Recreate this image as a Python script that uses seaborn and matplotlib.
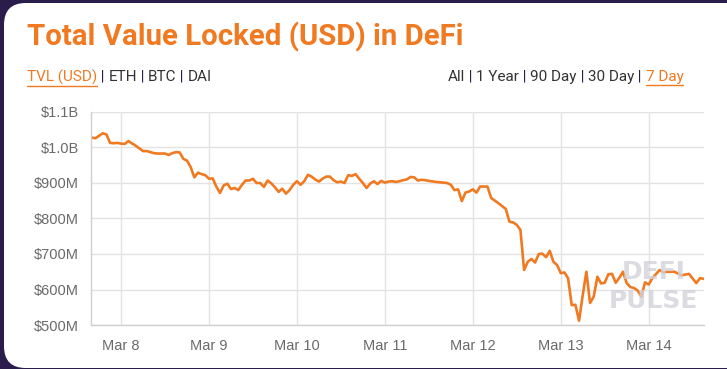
import pandas as pd
import matplotlib.pyplot as plt
import seaborn as sns
from matplotlib.patches import FancyBboxPatch

# hours since Mar 8 00:00 and TVL in $M
hours = [-8, -7, -6, -5, -4, -3, -2, -1, 0, 1, 2, 4, 6, 7, 9, 10, 12, 13, 14, 15,
         16, 17, 18, 19, 20, 21, 22, 23, 24, 25, 26, 27, 28, 29, 30, 31, 32, 33, 34, 35,
         36, 37, 38, 39, 40, 41, 42, 43, 44, 45, 46, 47, 48, 49, 50, 51, 52, 53, 54, 55,
         56, 57, 58, 59, 60, 61, 62, 63, 64, 65, 66, 67, 68, 69, 70, 71, 72, 73, 74, 75,
         76, 77, 78, 79, 80, 81, 82, 83, 84, 86, 88, 89, 90, 91, 92, 93, 94, 95, 96, 97,
         98, 100, 101, 103, 104, 105, 106, 107, 108, 109, 110, 111, 112, 113, 114, 115, 116, 117, 118, 119,
         120, 121, 122, 123, 124, 125, 126, 127, 128, 129, 130, 131, 132, 133, 134, 135, 136, 137, 138, 139,
         140, 141, 142, 143, 144, 145, 147, 148, 149, 151, 153, 155, 157, 158, 159]
tvl = [1028, 1026, 1033, 1040, 1037, 1013, 1012, 1013, 1011, 1010, 1018, 1005, 990, 990, 984, 983, 983, 979, 984, 987,
       986, 968, 963, 945, 916, 929, 925, 922, 912, 913, 890, 872, 893, 898, 883, 886, 880, 895, 907, 907,
       912, 900, 900, 889, 907, 899, 888, 875, 884, 870, 880, 895, 905, 895, 905, 923, 918, 910, 904, 912,
       918, 918, 908, 902, 904, 900, 922, 920, 925, 912, 900, 886, 898, 905, 897, 906, 901, 904, 905, 903,
       905, 908, 910, 917, 916, 907, 909, 908, 906, 903, 901, 900, 895, 880, 882, 849, 873, 876, 882, 873,
       890, 890, 858, 843, 835, 827, 791, 789, 782, 768, 655, 678, 686, 676, 700, 701, 691, 709, 678, 669,
       646, 648, 632, 556, 557, 512, 584, 650, 562, 580, 636, 617, 619, 643, 644, 619, 633, 650, 618, 607,
       604, 597, 580, 620, 614, 632, 655, 648, 650, 650, 640, 644, 618, 632, 630]

day_labels = ["Mar 8", "Mar 9", "Mar 10", "Mar 11", "Mar 12", "Mar 13", "Mar 14"]
y_ticks = [500, 600, 700, 800, 900, 1000, 1100]
y_labels = ["$500M", "$600M", "$700M", "$800M", "$900M", "$1.0B", "$1.1B"]

orange = "#f07a22"
purple = "#2a1d4c"
base = pd.Timestamp("2020-03-08")
df = pd.DataFrame({"time": [base + pd.Timedelta(hours=h) for h in hours], "tvl": tvl})

sns.set_style("white")
fig = plt.figure(figsize=(7.27, 3.69), dpi=100)
fig.patch.set_facecolor(purple)
card = FancyBboxPatch((4 / 727, 1 / 369), 760 / 727, 365 / 369,
                      boxstyle="round,pad=0,rounding_size=0.03", transform=fig.transFigure,
                      facecolor="white", edgecolor="none", mutation_aspect=727 / 369, zorder=-10)
fig.patches.append(card)

ax = fig.add_axes([91 / 727, 44 / 369, 613 / 727, 213 / 369])
ax.set_facecolor("white")
sns.lineplot(data=df, x="time", y="tvl", ax=ax, color=orange, linewidth=1.9)

ax.set_xlim(base - pd.Timedelta(hours=8.2), base + pd.Timedelta(hours=159.1))
ax.set_ylim(500, 1100)
ax.set_xticks([base + pd.Timedelta(days=i) for i in range(len(day_labels))])
ax.set_xticklabels(day_labels)
ax.set_yticks(y_ticks)
ax.set_yticklabels(y_labels)
ax.set_xlabel("")
ax.set_ylabel("")
ax.grid(True, color="#e3e3e3", linewidth=1)
for s in ["top", "right"]:
    ax.spines[s].set_visible(False)
for s in ["left", "bottom"]:
    ax.spines[s].set_color("#d0d0d0")
    ax.spines[s].set_linewidth(1)
ax.tick_params(axis="both", colors="#e3e3e3", labelcolor="#6a6a6a", labelsize=10.5)
ax.tick_params(axis="y", length=6.5, pad=2)
ax.tick_params(axis="x", length=3.6, pad=6.5)
for lab in ax.get_xticklabels() + ax.get_yticklabels():
    lab.set_family("Liberation Sans")

# watermark
for txt, yy in [("DEFI", 0.25), ("PULSE", 0.115)]:
    ax.text(0.918, yy, txt, transform=ax.transAxes, ha="center", va="center",
            fontsize=18, fontweight="bold", family="DejaVu Sans", color="#d2d2da",
            alpha=0.8, zorder=5)

fig.text(27 / 727, 1 - 37 / 369, "Total Value Locked (USD) in DeFi", color=orange,
         fontsize=21.2, fontweight="bold", family="Roboto", va="center")

row_y = 1 - 77 / 369
dark = "#333333"
fig.canvas.draw()
r = fig.canvas.get_renderer()


def put_row(x0, parts):
    x = x0
    out = []
    for s, c in parts:
        t = fig.text(x, row_y, s, color=c, fontsize=11, family="Roboto", va="center")
        bb = t.get_window_extent(renderer=r)
        out.append((t, bb))
        x = bb.x1 / fig.bbox.width
    return out


def underline(bb):
    y = (bb.y0 - 1) / fig.bbox.height
    fig.add_artist(plt.Line2D([bb.x0 / fig.bbox.width, bb.x1 / fig.bbox.width], [y, y],
                              color=orange, linewidth=1, transform=fig.transFigure))


left = put_row(27 / 727, [("TVL (USD)", orange), (" | ", purple), ("ETH", dark), (" | ", purple),
                          ("BTC", dark), (" | ", purple), ("DAI", dark)])
underline(left[0][1])
right = put_row(448 / 727, [("All", dark), (" | ", purple), ("1 Year", dark), (" | ", purple),
                            ("90 Day", dark), (" | ", purple), ("30 Day", dark), (" | ", purple),
                            ("7 Day", orange)])
underline(right[-1][1])

plt.savefig("out.png", dpi=100, facecolor=fig.get_facecolor())
